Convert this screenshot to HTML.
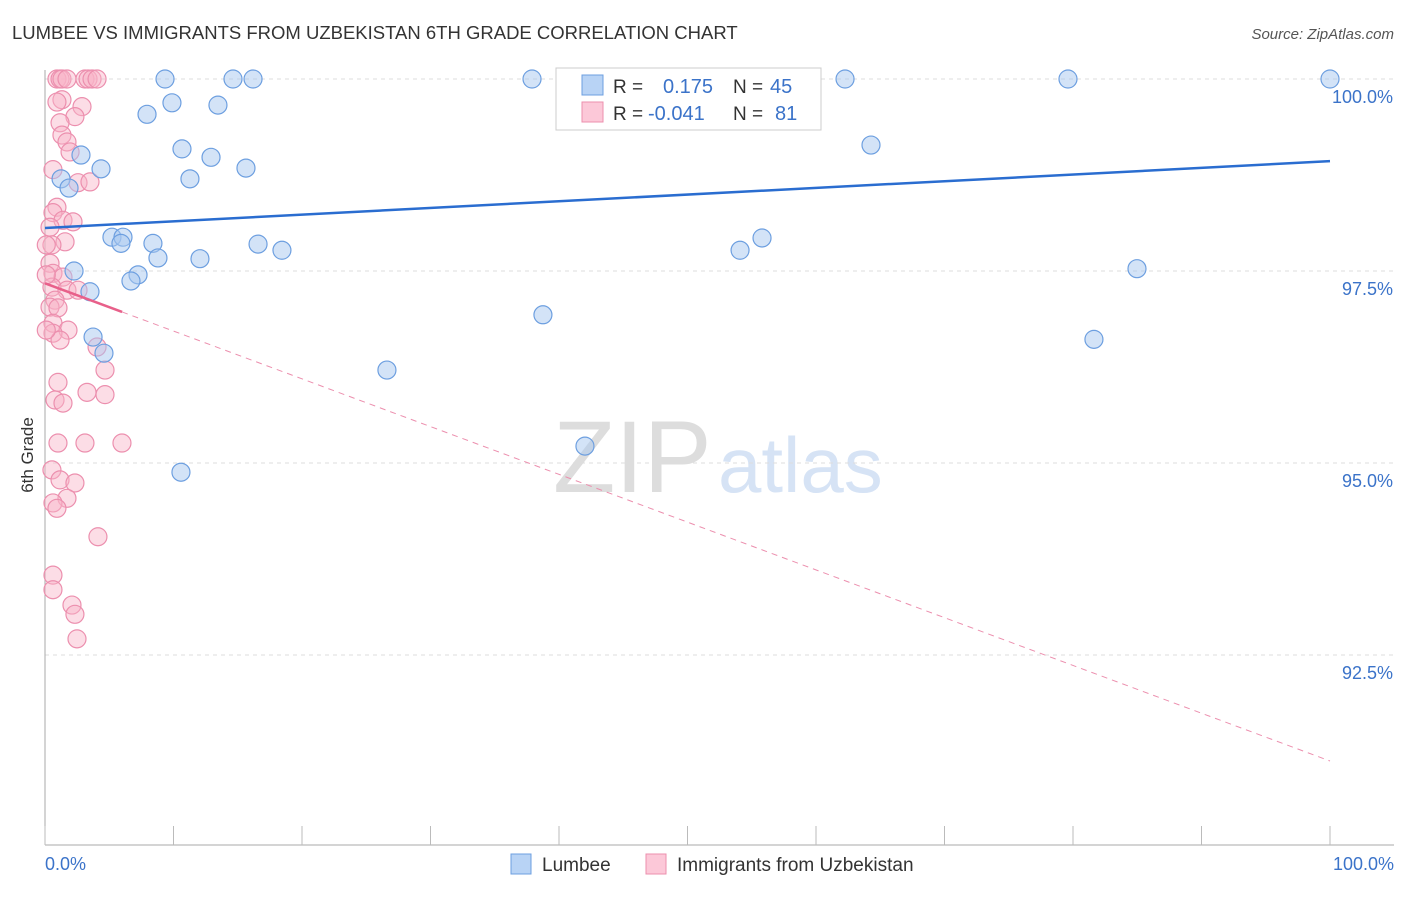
<!DOCTYPE html>
<html><head><meta charset="utf-8"><style>
body{margin:0;background:#fff;font-family:"Liberation Sans",sans-serif;}
svg text{font-family:"Liberation Sans",sans-serif;}
</style></head><body>
<svg id="chart" width="1406" height="892">
<text x="12" y="39" font-size="18.5" fill="#333">LUMBEE VS IMMIGRANTS FROM UZBEKISTAN 6TH GRADE CORRELATION CHART</text>
<text x="1394" y="39" font-size="15" fill="#555" text-anchor="end" font-style="italic">Source: ZipAtlas.com</text>
<text x="33" y="455" font-size="17" fill="#333" text-anchor="middle" transform="rotate(-90 33 455)">6th Grade</text>
<text x="553" y="492" font-size="102" fill="#ddd" font-family="Liberation Serif">ZIP</text>
<text x="718" y="492" font-size="78" fill="#d6e3f5">atlas</text>
<g id="grid"></g><g id="axes"></g><g id="pts"></g><g id="lines"></g>
<g>
<rect x="556" y="68" width="265" height="62" fill="#fff" stroke="#ccc"/>
<rect x="582" y="75" width="21" height="20" fill="#b8d3f5" stroke="#6d9fe0"/>
<rect x="582" y="102" width="21" height="20" fill="#fcc8d8" stroke="#ec8fae"/>
<text x="613" y="93" font-size="19" fill="#333">R =</text>
<text x="663" y="93" font-size="20" fill="#3b73c9">0.175</text>
<text x="733" y="93" font-size="19" fill="#333">N =</text>
<text x="770" y="93" font-size="20" fill="#3b73c9">45</text>
<text x="613" y="120" font-size="19" fill="#333">R =</text>
<text x="648" y="120" font-size="20" fill="#3b73c9">-0.041</text>
<text x="733" y="120" font-size="19" fill="#333">N =</text>
<text x="775" y="120" font-size="20" fill="#3b73c9">81</text>
</g>
<g>
<rect x="511" y="854" width="20" height="20" fill="#b8d3f5" stroke="#6d9fe0"/>
<text x="542" y="871" font-size="19" fill="#333">Lumbee</text>
<rect x="646" y="854" width="20" height="20" fill="#fcc8d8" stroke="#ec8fae"/>
<text x="677" y="871" font-size="19" fill="#333">Immigrants from Uzbekistan</text>
</g>
</svg>
<script>
const yTicks=[100,97.5,95,92.5];
const yTickLabels=["100.0%","97.5%","95.0%","92.5%"];
const blueX=[9.34,14.63,16.19,37.9,62.26,79.61,100,48.5,53.85,7.94,9.88,13.46,2.80,4.36,10.66,12.92,11.28,15.64,1.25,1.87,64.28,5.21,6.07,5.91,8.40,8.79,12.06,16.58,18.44,54.09,55.80,2.26,7.24,6.69,3.50,3.74,4.59,38.75,26.61,84.98,81.63,42.02,10.58];
const blueY=[100,100,100,100,100,100,100,100,99.77,99.54,99.69,99.66,99.01,98.83,99.09,98.98,98.70,98.84,98.70,98.58,99.14,97.94,97.94,97.86,97.86,97.67,97.66,97.85,97.77,97.77,97.93,97.50,97.45,97.37,97.23,96.64,96.43,96.93,96.21,97.53,96.61,95.22,94.88];
const pinkX=[0.93,1.17,1.32,1.71,3.11,3.35,3.66,4.05,1.32,2.88,0.93,2.33,1.17,1.32,1.71,1.95,0.62,2.57,3.50,0.93,0.62,1.40,2.18,0.39,1.56,0.54,0.39,0.62,1.40,0.54,1.71,2.57,0.78,0.39,1.01,0.62,1.79,0.62,1.17,4.05,4.67,1.01,3.27,4.67,0.78,1.40,1.01,3.11,5.99,0.54,1.17,2.33,1.71,0.62,0.93,4.12,0.62,0.62,2.10,2.33,2.49,0.1,0.1,0.1];
const pinkY=[100,100,100,100,100,100,100,100,99.73,99.64,99.70,99.51,99.43,99.27,99.18,99.05,98.82,98.65,98.66,98.33,98.26,98.16,98.14,98.07,97.88,97.84,97.60,97.47,97.42,97.29,97.25,97.25,97.12,97.03,97.02,96.82,96.73,96.69,96.60,96.51,96.21,96.05,95.92,95.89,95.82,95.78,95.26,95.26,95.26,94.91,94.78,94.74,94.54,94.48,94.41,94.04,93.54,93.35,93.15,93.03,92.71,97.84,97.45,96.73];
const blueTrend=[98.06,98.93];
const pinkTrend=[97.34,91.12];
const pinkSolidEnd=6;
const X=v=>45+v*12.85, Y=v=>79+(100-v)*76.8;
const NS="http://www.w3.org/2000/svg";
function mk(tag,attrs,parent){const e=document.createElementNS(NS,tag);for(const k in attrs)e.setAttribute(k,attrs[k]);document.getElementById(parent).appendChild(e);return e;}
yTicks.forEach((t,i)=>{
 const l=mk('line',{x1:45,x2:1394,y1:Y(t),y2:Y(t),stroke:'#ddd','stroke-dasharray':'4,4'},'grid');
 
 
 const tx=mk('text',{x:1393,y:Y(t)+24,'font-size':18,fill:'#3b73c9','text-anchor':'end'},'grid');
 tx.textContent=yTickLabels[i];
 
 
});
const ax=mk('line',{x1:45,x2:45,y1:70,y2:845,stroke:'#aaa'},'axes');


const bx=mk('line',{x1:45,x2:1394,y1:845,y2:845,stroke:'#aaa'},'axes');


for(let i=0;i<=10;i++){const t=mk('line',{x1:X(i*10),x2:X(i*10),y1:826,y2:845,stroke:'#bbb'},'axes');
 
 }
const xl=mk('text',{x:45,y:870,'font-size':18,fill:'#3b73c9'},'axes');xl.textContent='0.0%';


const xr=mk('text',{x:1394,y:870,'font-size':18,fill:'#3b73c9','text-anchor':'end'},'axes');xr.textContent='100.0%';


pinkX.forEach((v,i)=>{const c=mk('circle',{cx:X(v),cy:Y(pinkY[i]),r:9,fill:'rgba(248,180,200,0.45)',stroke:'#ec8fae','stroke-width':1.2},'pts');
 
 });
blueX.forEach((v,i)=>{const c=mk('circle',{cx:X(v),cy:Y(blueY[i]),r:9,fill:'rgba(168,200,240,0.5)',stroke:'#6d9fe0','stroke-width':1.2},'pts');
 
 });
const bl=mk('line',{x1:X(0),y1:Y(blueTrend[0]),x2:X(100),y2:Y(blueTrend[1]),stroke:'#2a6dd0','stroke-width':2.5},'lines');


const pAt=x=>pinkTrend[0]+(pinkTrend[1]-pinkTrend[0])*x/100;
const ps=mk('line',{x1:X(0),y1:Y(pAt(0)),x2:X(pinkSolidEnd),y2:Y(pAt(pinkSolidEnd)),stroke:'#e8608a','stroke-width':2.5},'lines');


const pd=mk('line',{x1:X(pinkSolidEnd),y1:Y(pAt(pinkSolidEnd)),x2:X(100),y2:Y(pAt(100)),stroke:'#ec8fae','stroke-width':1,'stroke-dasharray':'6,5'},'lines');


</script>
</body></html>
